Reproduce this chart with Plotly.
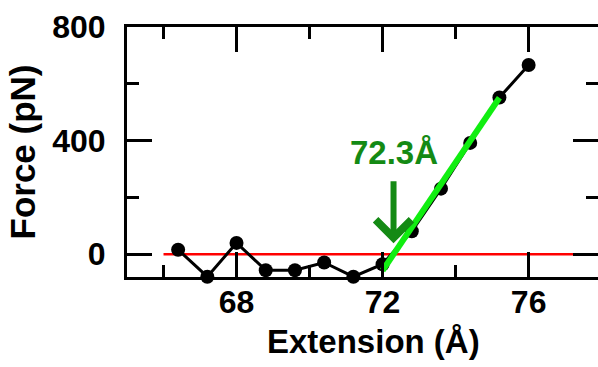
import plotly.graph_objects as go

# data
extension = [66.4, 67.2, 68.0, 68.8, 69.6, 70.4, 71.2, 72.0, 72.8, 73.6, 74.4, 75.2, 76.0]
force = [16, -79, 40, -56, -56, -29, -79, -35, 81, 231, 392, 552, 666]

baseline_x = [66.0, 77.9]
baseline_y = [0, 0]

fit_x = [72.0, 75.2]
fit_y = [-57, 551]

onset = 72.3
onset_label = "72.3Å"
arrow_tip_y = 39
arrow_tail_y = 262
label_y = 358

x_ticks = [68, 72, 76]
x_minor = [66, 70, 74]
y_ticks = [0, 400, 800]
y_minor = [200, 600]

FONT = "Liberation Sans, Arial, sans-serif"
DARKGREEN = "#148a14"

fig = go.Figure()
fig.add_trace(go.Scatter(x=baseline_x, y=baseline_y, mode="lines",
                         line=dict(color="#ff0000", width=2.5), showlegend=False))
fig.add_trace(go.Scatter(x=extension, y=force, mode="lines+markers",
                         line=dict(color="black", width=3),
                         marker=dict(color="black", size=14),
                         cliponaxis=False, showlegend=False))
fig.add_trace(go.Scatter(x=fit_x, y=fit_y, mode="lines",
                         line=dict(color="#11ee11", width=6), showlegend=False))
# invisible trace to carry the right-hand tick axis
fig.add_trace(go.Scatter(x=baseline_x, y=baseline_y, yaxis="y2", mode="lines",
                         line=dict(width=0), hoverinfo="skip", showlegend=False))

fig.add_annotation(x=onset, y=arrow_tip_y, ax=onset, ay=arrow_tail_y,
                   xref="x", yref="y", axref="x", ayref="y",
                   showarrow=True, arrowhead=4, arrowsize=1.15, arrowwidth=6,
                   arrowcolor=DARKGREEN, standoff=0, text="")
fig.add_annotation(x=onset, y=label_y, xref="x", yref="y", showarrow=False,
                   text=onset_label,
                   font=dict(family=FONT, size=33, color=DARKGREEN, weight="bold"))
# x-axis title (placed as annotation to match the reference's centring)
fig.add_annotation(x=0.5244, y=-0.258, xref="paper", yref="paper", showarrow=False,
                   xanchor="center", yanchor="middle", text="Extension (Å)",
                   font=dict(family=FONT, size=33, color="black", weight="bold"))

tickfont = dict(family=FONT, size=32, color="black", weight="bold")
titlefont = dict(family=FONT, size=35, color="black", weight="bold")

fig.update_layout(
    width=598, height=367,
    margin=dict(l=127, r=0, t=27, b=90),
    plot_bgcolor="white", paper_bgcolor="white",
    xaxis=dict(range=[65, 77.9], tickvals=x_ticks, ticks="inside", ticklen=25,
               tickwidth=3, tickcolor="black", showline=True, linewidth=3,
               linecolor="black", mirror="ticks", showgrid=False, zeroline=False,
               tickfont=tickfont, ticklabelstandoff=-5,
               minor=dict(tickvals=x_minor, ticks="inside", ticklen=12,
                          tickwidth=3, tickcolor="black", showgrid=False)),
    yaxis=dict(range=[-80, 800], tickvals=y_ticks, ticks="inside", ticklen=25,
               tickwidth=3, tickcolor="black", showline=True, linewidth=3,
               linecolor="black", mirror=False, showgrid=False, zeroline=False,
               tickfont=tickfont, ticklabelstandoff=12,
               minor=dict(tickvals=y_minor, ticks="inside", ticklen=12,
                          tickwidth=3, tickcolor="black", showgrid=False),
               title=dict(text="Force (pN)", font=titlefont, standoff=6)),
    yaxis2=dict(range=[-80, 800], overlaying="y", side="right", tickvals=y_ticks,
                ticks="inside", ticklen=25, tickwidth=3, tickcolor="black",
                showline=False, showgrid=False, zeroline=False, showticklabels=False,
                minor=dict(tickvals=y_minor, ticks="inside", ticklen=12,
                           tickwidth=3, tickcolor="black", showgrid=False)),
)

fig.write_html("out.html")
